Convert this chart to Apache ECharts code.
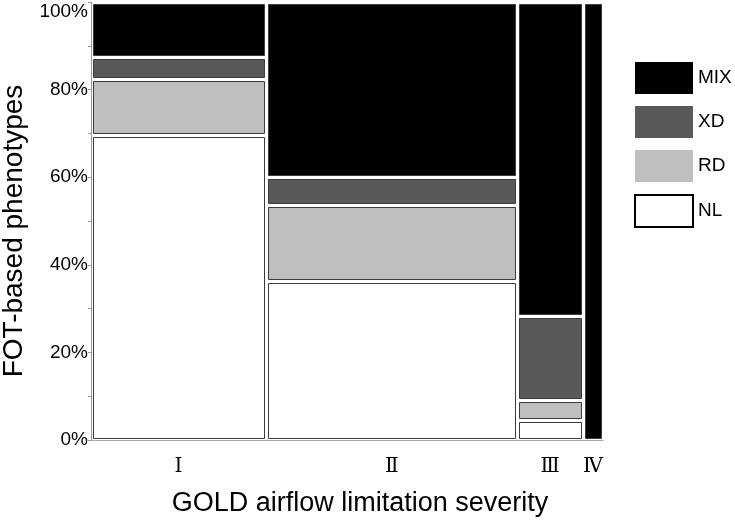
<!DOCTYPE html>
<html>
<head>
<meta charset="utf-8">
<script src="https://cdn.jsdelivr.net/npm/echarts@6/dist/echarts.min.js"></script>
<style>html,body{margin:0;padding:0;background:#fff}#c{width:735px;height:521px}</style>
</head>
<body>
<div id="c"></div>
<script>
// Column categories (GOLD severity) and their relative widths (share of subjects, %)
const categories = ['Ⅰ', 'Ⅱ', 'Ⅲ', 'Ⅳ'];
const colWidths = [34.2, 49.1, 12.8, 3.9];
// Phenotype shares within each column (%), stacked bottom to top: NL, RD, XD, MIX
const NL  = [69.5, 36.1, 4.5, 0];
const RD  = [12.7, 17.4, 4.6, 0];
const XD  = [5.2, 6.4, 19.2, 0];
const MIX = [12.6, 40.1, 71.7, 100];
const phenotypeNames = ['NL', 'RD', 'XD', 'MIX'];
const phenotypeValues = [NL, RD, XD, MIX];
const phenotypeColors = ['#ffffff', '#bfbfbf', '#595959', '#000000'];

// cumulative positions
const xStarts = [];
let acc = 0;
colWidths.forEach(w => { xStarts.push(acc); acc += w; });
const xTotal = acc;
const centers = colWidths.map((w, i) => xStarts[i] + w / 2);

const seriesList = phenotypeNames.map((name, k) => {
  const data = categories.map((c, i) => {
    let y0 = 0;
    for (let j = 0; j < k; j++) y0 += phenotypeValues[j][i];
    return [xStarts[i], xStarts[i] + colWidths[i], y0, y0 + phenotypeValues[k][i]];
  });
  return {
    name: name,
    type: 'custom',
    itemStyle: { color: phenotypeColors[k] },
    encode: { x: [0, 1], y: [2, 3] },
    data: data,
    renderItem: function (params, api) {
      const x0 = api.value(0), x1 = api.value(1), y0 = api.value(2), y1 = api.value(3);
      if (y1 - y0 <= 0) return null;
      const p0 = api.coord([x0, y1]);
      const p1 = api.coord([x1, y0]);
      const g = 1.5;
      const left = Math.round(p0[0] + g) + 0.5;
      const top = Math.round(p0[1] + g) + 0.5;
      const right = Math.round(p1[0] - g) - 0.5;
      const bottom = Math.round(p1[1] - g) - 0.5;
      return {
        type: 'rect',
        shape: { x: left, y: top, width: right - left, height: bottom - top },
        style: { fill: phenotypeColors[k], stroke: '#3c3c3c', lineWidth: 1 }
      };
    }
  };
});

const chart = echarts.init(document.getElementById('c'), null, { renderer: 'canvas' });
chart.setOption({
  animation: false,
  backgroundColor: '#fff',
  grid: { left: 91, right: 132, top: 2, bottom: 81, containLabel: false, outerBoundsMode: 'none' },
  legend: {
    orient: 'vertical',
    left: 634,
    top: 62,
    padding: 0,
    itemWidth: 58,
    itemHeight: 32,
    itemGap: 12,
    icon: 'rect',
    textStyle: { fontSize: 19, color: '#000', fontFamily: 'Liberation Sans, Arial, sans-serif' },
    data: [
      { name: 'MIX', itemStyle: { color: '#000000', borderWidth: 0 } },
      { name: 'XD', itemStyle: { color: '#595959', borderWidth: 0 } },
      { name: 'RD', itemStyle: { color: '#bfbfbf', borderWidth: 0 } },
      { name: 'NL', itemStyle: { color: '#ffffff', borderColor: '#000', borderWidth: 2 } }
    ]
  },
  xAxis: {
    type: 'value',
    min: 0,
    max: xTotal,
    name: 'GOLD airflow limitation severity',
    nameLocation: 'middle',
    nameGap: 50,
    nameTextStyle: { fontSize: 27, color: '#000', fontFamily: 'Liberation Sans, Arial, sans-serif', padding: [0, 0, 0, 26] },
    axisLine: { show: true, lineStyle: { color: '#aaaaaa', width: 1 } },
    axisTick: { show: false },
    splitLine: { show: false },
    axisLabel: {
      customValues: centers,
      formatter: function (v) {
        let best = 0;
        centers.forEach((c, i) => { if (Math.abs(c - v) < Math.abs(centers[best] - v)) best = i; });
        return categories[best];
      },
      fontSize: 20,
      color: '#000',
      margin: 17,
      fontFamily: 'DejaVu Serif, Liberation Serif, serif'
    }
  },
  yAxis: {
    type: 'value',
    min: 0,
    max: 100,
    interval: 10,
    name: 'FOT-based phenotypes',
    nameLocation: 'middle',
    nameGap: 62,
    nameTextStyle: { fontSize: 28, color: '#000', fontFamily: 'Liberation Sans, Arial, sans-serif', padding: [0, 20, 0, 0] },
    axisLine: { show: true, lineStyle: { color: '#999999', width: 1 } },
    axisTick: { show: true, length: 3, lineStyle: { color: '#999999' } },
    splitLine: { show: false },
    axisLabel: {
      formatter: function (v) { return v % 20 === 0 ? v + '%' : ''; },
      fontSize: 19,
      color: '#000',
      margin: 3,
      verticalAlignMaxLabel: 'top',
      fontFamily: 'Liberation Sans, Arial, sans-serif'
    }
  },
  series: seriesList
});
</script>
</body>
</html>
